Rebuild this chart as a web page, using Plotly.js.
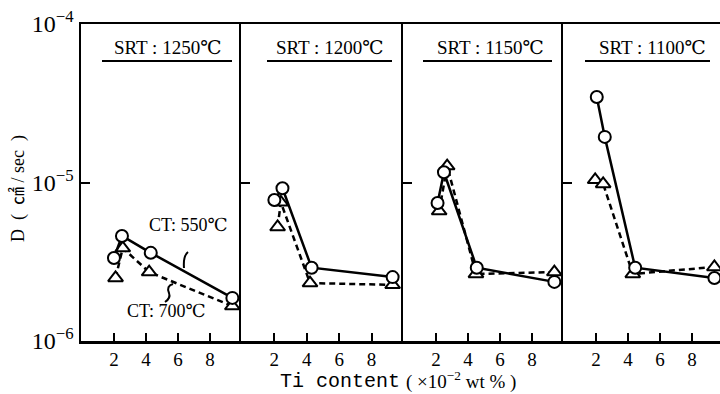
<!DOCTYPE html>
<html><head><meta charset="utf-8">
<script src="https://cdn.plot.ly/plotly-3.0.1.min.js"></script>
<style>html,body{margin:0;padding:0;background:#fff}#c{width:720px;height:394px}</style>
</head><body><div id="c"></div>
<script>
// ---- data (Ti content in 1e-2 wt%, D in cm^2/sec) ----
const srtLabels = ["SRT : 1250℃", "SRT : 1200℃", "SRT : 1150℃", "SRT : 1100℃"];
const xTickVals = [2, 4, 6, 8];
const yTickVals = [1e-6, 1e-5, 1e-4];
const yTickText = ["10<sup>−6</sup>", "10<sup>−5</sup>", "10<sup>−4</sup>"];

// SRT 1250
const ct550X_1250 = [2.0, 2.5, 4.3, 9.4];
const ct550D_1250 = [3.34e-6, 4.6e-6, 3.6e-6, 1.87e-6];
const ct700X_1250 = [2.1, 2.55, 4.2, 9.4];
const ct700D_1250 = [2.5e-6, 3.86e-6, 2.72e-6, 1.66e-6];
// SRT 1200
const ct550X_1200 = [2.0, 2.5, 4.3, 9.3];
const ct550D_1200 = [7.76e-6, 9.2e-6, 2.9e-6, 2.53e-6];
const ct700X_1200 = [2.2, 2.4, 4.2, 9.3];
const ct700D_1200 = [5.24e-6, 7.5e-6, 2.32e-6, 2.26e-6];
// SRT 1150
const ct550X_1150 = [2.1, 2.5, 4.55, 9.4];
const ct550D_1150 = [7.43e-6, 1.16e-5, 2.9e-6, 2.36e-6];
const ct700X_1150 = [2.2, 2.7, 4.5, 9.4];
const ct700D_1150 = [6.6e-6, 1.27e-5, 2.65e-6, 2.72e-6];
// SRT 1100
const ct550X_1100 = [2.05, 2.55, 4.45, 9.4];
const ct550D_1100 = [3.46e-5, 1.94e-5, 2.9e-6, 2.5e-6];
const ct700X_1100 = [1.95, 2.45, 4.3, 9.4];
const ct700D_1100 = [1.04e-5, 9.8e-6, 2.65e-6, 2.93e-6];

const ct550 = [[ct550X_1250, ct550D_1250], [ct550X_1200, ct550D_1200], [ct550X_1150, ct550D_1150], [ct550X_1100, ct550D_1100]];
const ct700 = [[ct700X_1250, ct700D_1250], [ct700X_1200, ct700D_1200], [ct700X_1150, ct700D_1150], [ct700X_1100, ct700D_1100]];

// ---- geometry helpers (pixel -> paper) ----
const L = 81, T = 24, B = 341, W = 720 - L, H = B - T;
const P = x => (x - L) / W;
const Q = y => (B - y) / H;

const domains = [[0, P(241)], [P(241), P(403)], [P(403), P(563)], [P(563), 1]];
const xRanges = [[-0.06, 9.94], [-0.06, 9.94], [-0.06, 9.94], [-0.06, 9.75]];

const traces = [];
for (let i = 0; i < 4; i++) {
  const s = i === 0 ? "" : String(i + 1);
  traces.push({
    x: ct700[i][0], y: ct700[i][1], xaxis: "x" + s, yaxis: "y" + s,
    mode: "lines+markers", type: "scatter", hoverinfo: "none", showlegend: false,
    line: {color: "#000", width: 2.5, dash: "6px,4px"},
    marker: {symbol: "triangle-up", size: 13, color: "#fff", line: {color: "#000", width: 2}},
    cliponaxis: true
  });
  traces.push({
    x: ct550[i][0], y: ct550[i][1], xaxis: "x" + s, yaxis: "y" + s,
    mode: "lines+markers", type: "scatter", hoverinfo: "none", showlegend: false,
    line: {color: "#000", width: 2.5},
    marker: {symbol: "circle", size: 12, color: "#fff", line: {color: "#000", width: 2}},
    cliponaxis: true
  });
}

const serif = "Liberation Serif, DejaVu Serif, Noto Sans CJK JP, serif";
const layout = {
  width: 720, height: 394,
  margin: {l: L, r: 0, t: T, b: 394 - B, pad: 0},
  paper_bgcolor: "#fff", plot_bgcolor: "#fff",
  font: {family: serif, color: "#000", size: 18},
  showlegend: false,
  annotations: [], shapes: []
};

for (let i = 0; i < 4; i++) {
  const s = i === 0 ? "" : String(i + 1);
  layout["xaxis" + s] = {
    domain: domains[i], range: xRanges[i], anchor: "y" + s,
    tickmode: "array", tickvals: xTickVals, ticktext: xTickVals.map(String),
    ticks: "inside", ticklen: 8, tickwidth: 2, tickcolor: "#000",
    showline: true, mirror: true, linewidth: 2.5, linecolor: "#000",
    showgrid: false, zeroline: false, fixedrange: true,
    tickfont: {family: serif, size: 19, color: "#000"}
  };
  const yax = {
    type: "log", range: [-6, -4], anchor: "x" + s,
    tickmode: "array", tickvals: i === 0 ? yTickVals : [1e-5],
    showticklabels: i === 0,
    ticks: "inside", ticklen: 9, tickwidth: 2, tickcolor: "#000",
    showline: true, mirror: false, linewidth: 2.5, linecolor: "#000",
    showgrid: false, zeroline: false, fixedrange: true,
    tickfont: {family: serif, size: 24, color: "#000"}
  };
  if (i === 0) yax.ticktext = yTickText;
  layout["yaxis" + s] = yax;
}

// SRT titles with underline
const srtCx = [167, 329, 490, 652];
const ulX = [[102, 232], [267, 392], [423, 552], [585, 710]];
for (let i = 0; i < 4; i++) {
  layout.annotations.push({
    xref: "paper", yref: "paper", x: P(srtCx[i]), y: Q(48),
    text: srtLabels[i], showarrow: false, xanchor: "center", yanchor: "middle",
    font: {family: serif, size: 19, color: "#000"}
  });
  layout.shapes.push({
    type: "line", xref: "paper", yref: "paper",
    x0: P(ulX[i][0]), x1: P(ulX[i][1]), y0: Q(61), y1: Q(61),
    line: {color: "#000", width: 2}
  });
}

// CT labels in first panel
layout.annotations.push({
  xref: "paper", yref: "paper", x: P(188), y: Q(225), text: "CT: 550℃",
  showarrow: false, xanchor: "center", yanchor: "middle",
  font: {family: serif, size: 18, color: "#000"}
});
layout.annotations.push({
  xref: "paper", yref: "paper", x: P(166), y: Q(311), text: "CT: 700℃",
  showarrow: false, xanchor: "center", yanchor: "middle",
  font: {family: serif, size: 18, color: "#000"}
});
// pointer hooks
layout.shapes.push({
  type: "path", xref: "paper", yref: "paper",
  path: `M ${P(188)} ${Q(252)} Q ${P(183)} ${Q(256)} ${P(184)} ${Q(268)}`,
  line: {color: "#000", width: 2}
});
layout.shapes.push({
  type: "path", xref: "paper", yref: "paper",
  path: `M ${P(173)} ${Q(284)} Q ${P(166)} ${Q(286)} ${P(169)} ${Q(293)} Q ${P(171)} ${Q(298)} ${P(165)} ${Q(302)}`,
  line: {color: "#000", width: 2}
});

// axis titles
layout.annotations.push({
  xref: "paper", yref: "paper", x: P(401), y: Q(394), text: "Ti content",
  showarrow: false, xanchor: "right", yanchor: "bottom", borderpad: 0,
  font: {family: "Liberation Mono, DejaVu Sans Mono, monospace", size: 20, color: "#000"}
});
layout.annotations.push({
  xref: "paper", yref: "paper", x: P(405), y: Q(394), text: "( ×10<sup>−2</sup> wt % )",
  showarrow: false, xanchor: "left", yanchor: "bottom", borderpad: 0,
  font: {family: serif, size: 19, color: "#000"}
});
layout.annotations.push({
  xref: "paper", yref: "paper", x: P(18), y: Q(189), text: "D  (  ㎠ / sec  )",
  showarrow: false, xanchor: "center", yanchor: "middle", textangle: -90,
  font: {family: serif, size: 18, color: "#000"}
});

Plotly.newPlot("c", traces, layout, {staticPlot: true, displayModeBar: false});
</script>
</body></html>
